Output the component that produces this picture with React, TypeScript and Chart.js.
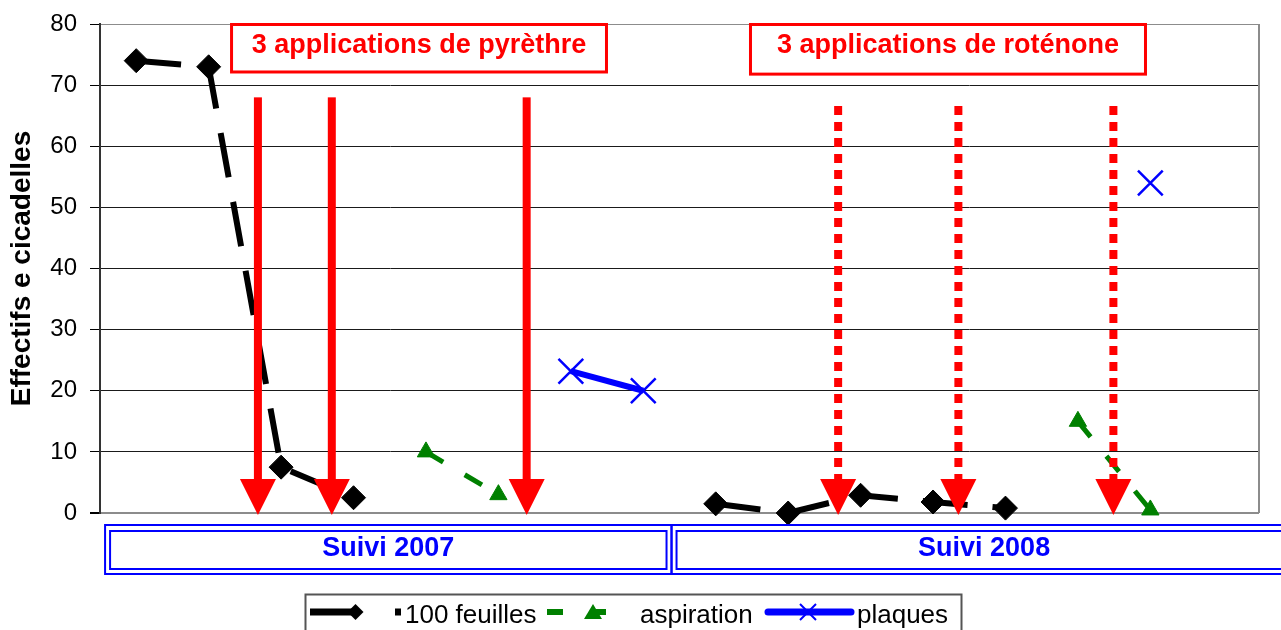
import React, { useEffect, useRef } from 'react';
import { Chart, registerables } from 'chart.js';

Chart.register(...registerables);

const FONT = "'Liberation Sans', Arial, sans-serif";

// ---- data ----
const categories = ['1', '2', '3', '4', '5', '6', '7', '8', '9', '10', '11', '12', '13', '14', '15', '16'];
const feuilles100 = [74, 73, 7.5, 2.5, null, null, null, null, 1.5, 0, 2.9, 1.8, 0.8, null, null, null];
const aspiration = [null, null, null, null, 10, 3, null, null, null, null, null, null, null, 15, 0.5, null];
const plaques = [null, null, null, null, null, null, 23.2, 20, null, null, null, null, null, null, 54, null];

const seriesNames = ['100 feuilles', 'aspiration', 'plaques'];
const yMin = 0;
const yMax = 80;
const yStep = 10;
const yTitle = 'Effectifs e cicadelles';

// treatment arrows (category position, top value)
const pyrethreArrows = [1.68, 2.7, 5.39];
const pyrethreArrowTop = 68;
const rotenoneArrows = [9.69, 11.35, 13.49];
const rotenoneArrowTop = 66.6;

const annotationTexts = ['3 applications de pyrèthre', '3 applications de roténone'];
const annotationX0 = [1.316, 8.48];
const annotationX1 = [6.492, 13.933];
const annotationYBottom = [72.15, 71.8];

const suiviLabels = ['Suivi 2007', 'Suivi 2008'];
const suiviFrom = [-0.43, 7.39];
const suiviTo = [7.39, 16.02];

const RED = '#ff0000';
const BLUE = '#0000ff';
const GREEN = '#008000';

function drawArrow(ctx: CanvasRenderingContext2D, x: number, yTop: number, yTip: number, dotted: boolean) {
  const headH = 36;
  const headW = 36;
  const headTop = yTip - headH;
  ctx.save();
  ctx.fillStyle = RED;
  ctx.strokeStyle = RED;
  if (dotted) {
    ctx.lineWidth = 8;
    ctx.setLineDash([9, 7]);
    ctx.beginPath();
    ctx.moveTo(x, yTop);
    ctx.lineTo(x, headTop + 2);
    ctx.stroke();
    ctx.setLineDash([]);
  } else {
    ctx.fillRect(x - 4, yTop, 8, headTop - yTop + 1);
  }
  ctx.beginPath();
  ctx.moveTo(x - headW / 2, headTop);
  ctx.lineTo(x + headW / 2, headTop);
  ctx.lineTo(x, yTip);
  ctx.closePath();
  ctx.fill();
  ctx.restore();
}

const overlayPlugin = {
  id: 'overlay',
  afterDatasetsDraw(chart: any) {
    const { ctx, chartArea } = chart;
    const x = chart.scales.x;
    const y = chart.scales.y;
    // right border of plot
    ctx.save();
    ctx.strokeStyle = '#8c8c8c';
    ctx.lineWidth = 2;
    ctx.beginPath();
    ctx.moveTo(chartArea.right, chartArea.top);
    ctx.lineTo(chartArea.right, chartArea.bottom);
    ctx.stroke();
    ctx.restore();

    const yTip = y.getPixelForValue(0) + 2;
    pyrethreArrows.forEach((v) => drawArrow(ctx, x.getPixelForValue(v), y.getPixelForValue(pyrethreArrowTop), yTip, false));
    rotenoneArrows.forEach((v) => drawArrow(ctx, x.getPixelForValue(v), y.getPixelForValue(rotenoneArrowTop), yTip, true));
  },
  afterDraw(chart: any) {
    const { ctx, chartArea } = chart;
    const x = chart.scales.x;
    const y = chart.scales.y;

    // annotation boxes
    annotationTexts.forEach((t, i) => {
      const x0 = x.getPixelForValue(annotationX0[i]);
      const x1 = x.getPixelForValue(annotationX1[i]);
      const y0 = chartArea.top + 0.5;
      const y1 = y.getPixelForValue(annotationYBottom[i]);
      ctx.save();
      ctx.fillStyle = '#ffffff';
      ctx.fillRect(x0, y0, x1 - x0, y1 - y0);
      ctx.strokeStyle = RED;
      ctx.lineWidth = 3;
      ctx.strokeRect(x0, y0, x1 - x0, y1 - y0);
      ctx.fillStyle = RED;
      ctx.font = `bold 27px ${FONT}`;
      ctx.textAlign = 'center';
      ctx.textBaseline = 'alphabetic';
      ctx.fillText(t, (x0 + x1) / 2, 53);
      ctx.restore();
    });

    // Suivi group boxes
    const oy0 = chartArea.bottom + 12;
    const oy1 = chartArea.bottom + 61;
    suiviLabels.forEach((t, i) => {
      const x0 = x.getPixelForValue(suiviFrom[i]);
      const x1 = x.getPixelForValue(suiviTo[i]);
      ctx.save();
      ctx.strokeStyle = BLUE;
      ctx.lineWidth = 2;
      ctx.strokeRect(x0, oy0, x1 - x0, oy1 - oy0);
      ctx.strokeRect(x0 + 5, oy0 + 6, x1 - x0 - 10, oy1 - oy0 - 11);
      ctx.fillStyle = BLUE;
      ctx.font = `bold 27px ${FONT}`;
      ctx.textAlign = 'center';
      ctx.textBaseline = 'alphabetic';
      ctx.fillText(t, (x0 + x1) / 2, oy0 + 31);
      ctx.restore();
    });

    // legend
    const ly = 612;
    ctx.save();
    ctx.strokeStyle = '#555555';
    ctx.lineWidth = 2;
    ctx.strokeRect(305.5, 594.5, 656, 60);
    ctx.font = `26px ${FONT}`;
    ctx.fillStyle = '#000000';
    ctx.textAlign = 'left';
    ctx.textBaseline = 'alphabetic';

    // 100 feuilles
    ctx.strokeStyle = '#000000';
    ctx.lineWidth = 7;
    ctx.setLineDash([47, 38]);
    ctx.beginPath();
    ctx.moveTo(310, ly);
    ctx.lineTo(401, ly);
    ctx.stroke();
    ctx.setLineDash([]);
    ctx.beginPath();
    ctx.moveTo(355.5, ly - 8);
    ctx.lineTo(363.5, ly);
    ctx.lineTo(355.5, ly + 8);
    ctx.lineTo(347.5, ly);
    ctx.closePath();
    ctx.fill();
    ctx.fillText(seriesNames[0], 405, 623);

    // aspiration
    ctx.strokeStyle = GREEN;
    ctx.fillStyle = GREEN;
    ctx.lineWidth = 6;
    ctx.setLineDash([16, 27]);
    ctx.beginPath();
    ctx.moveTo(547, ly);
    ctx.lineTo(608, ly);
    ctx.stroke();
    ctx.setLineDash([]);
    ctx.beginPath();
    ctx.moveTo(593, ly - 8);
    ctx.lineTo(602, ly + 7);
    ctx.lineTo(584, ly + 7);
    ctx.closePath();
    ctx.fill();
    ctx.fillStyle = '#000000';
    ctx.fillText(seriesNames[1], 640, 623);

    // plaques
    ctx.strokeStyle = BLUE;
    ctx.lineWidth = 7;
    ctx.lineCap = 'round';
    ctx.beginPath();
    ctx.moveTo(768, ly);
    ctx.lineTo(851, ly);
    ctx.stroke();
    ctx.lineCap = 'butt';
    ctx.lineWidth = 2;
    ctx.beginPath();
    ctx.moveTo(800, ly - 8);
    ctx.lineTo(816, ly + 8);
    ctx.moveTo(816, ly - 8);
    ctx.lineTo(800, ly + 8);
    ctx.stroke();
    ctx.fillStyle = '#000000';
    ctx.fillText(seriesNames[2], 857, 623);
    ctx.restore();
  },
};

export default function App() {
  const canvasRef = useRef<HTMLCanvasElement | null>(null);

  useEffect(() => {
    if (!canvasRef.current) return;
    const chart = new Chart(canvasRef.current, {
      type: 'line',
      data: {
        labels: categories,
        datasets: [
          {
            label: seriesNames[0],
            data: feuilles100,
            borderColor: '#000000',
            backgroundColor: '#000000',
            borderWidth: 6,
            borderDash: [45, 25],
            pointStyle: 'rectRot',
            pointRadius: 12,
            pointBackgroundColor: '#000000',
            pointBorderColor: '#000000',
            pointBorderWidth: 1,
            tension: 0,
            clip: false,
          },
          {
            label: seriesNames[1],
            data: aspiration,
            borderColor: GREEN,
            backgroundColor: GREEN,
            borderWidth: 5,
            borderDash: [20, 25],
            pointStyle: 'triangle',
            pointRadius: 10,
            pointBackgroundColor: GREEN,
            pointBorderColor: GREEN,
            pointBorderWidth: 1,
            tension: 0,
            clip: false,
          },
          {
            label: seriesNames[2],
            data: plaques,
            borderColor: BLUE,
            backgroundColor: BLUE,
            borderWidth: 6,
            pointStyle: 'crossRot',
            pointRadius: 17.5,
            pointBorderColor: BLUE,
            pointBorderWidth: 2.5,
            tension: 0,
            clip: false,
          },
        ] as any,
      },
      options: {
        responsive: false,
        animation: false,
        events: [],
        layout: { padding: { left: 0, top: 24, right: 22, bottom: 117 } },
        plugins: {
          legend: { display: false },
          tooltip: { enabled: false },
        },
        scales: {
          x: {
            type: 'category',
            display: false,
            offset: true,
          },
          y: {
            min: yMin,
            max: yMax,
            afterFit: (scale: any) => {
              scale.width = 100;
              scale.paddingTop = 0;
              scale.paddingBottom = 0;
            },
            ticks: {
              stepSize: yStep,
              color: '#000000',
              font: { family: FONT, size: 24 },
              padding: 13,
            },
            grid: {
              drawTicks: true,
              tickLength: 10,
              tickColor: '#000000',
              color: (c: any) => (c.tick && (c.tick.value === yMax || c.tick.value === yMin) ? '#8c8c8c' : '#1a1a1a'),
              lineWidth: (c: any) => (c.tick && c.tick.value === yMin ? 2 : 1),
            },
            border: { display: true, color: '#333333', width: 2 },
            title: {
              display: true,
              text: yTitle,
              color: '#000000',
              font: { family: FONT, size: 28, weight: 'bold' },
              padding: { top: 5, bottom: 0 },
            },
          },
        },
      } as any,
      plugins: [overlayPlugin],
    });
    return () => chart.destroy();
  }, []);

  return (
    <div style={{ position: 'absolute', left: 0, top: 0, width: 1281, height: 630, background: '#ffffff' }}>
      <canvas ref={canvasRef} width={1281} height={630} style={{ display: 'block' }} />
    </div>
  );
}
